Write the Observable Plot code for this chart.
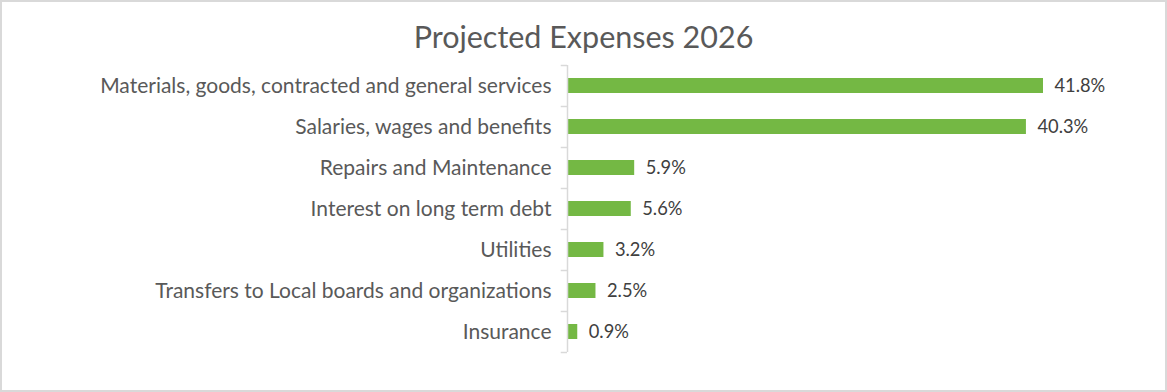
<!DOCTYPE html>
<html>
<head>
<meta charset="utf-8">
<script src="https://cdn.jsdelivr.net/npm/d3@7"></script>
<script src="https://cdn.jsdelivr.net/npm/@observablehq/plot@0.6"></script>
<style>
  body { margin: 0; background: #fff; }
  #chart { position: relative; width: 1167px; height: 392px; overflow: hidden; font-family: Lato, "Open Sans", sans-serif; }
  #title { position: absolute; left: 0; top: 21px; width: 1167px; text-align: center; font-size: 30.5px; line-height: 1; color: #595959; }
  #frame { position: absolute; left: 0; top: 0; width: 1167px; height: 392px; box-sizing: border-box; border: 2px solid #d9d9d9; pointer-events: none; }
  #plot { position: absolute; left: 0; top: 0; }
</style>
</head>
<body>
<div id="chart">
  <div id="plot"></div>
  <div id="title">Projected Expenses 2026</div>
  <div id="frame"></div>
</div>
<script>
const categories = [
  "Materials, goods, contracted and general services",
  "Salaries, wages and benefits",
  "Repairs and Maintenance",
  "Interest on long term debt",
  "Utilities",
  "Transfers to Local boards and organizations",
  "Insurance"
];
const values = [41.8, 40.3, 5.9, 5.6, 3.2, 2.5, 0.9];
const valueLabels = ["41.8%", "40.3%", "5.9%", "5.6%", "3.2%", "2.5%", "0.9%"];

const data = categories.map((c, i) => ({category: c, value: values[i], label: valueLabels[i]}));

const chart = Plot.plot({
  width: 1167,
  height: 392,
  marginLeft: 567,
  marginRight: 124,
  marginTop: 65,
  marginBottom: 40,
  style: {fontFamily: "Lato, 'Open Sans', sans-serif", background: "transparent"},
  x: {domain: [0, 41.8], axis: null},
  y: {domain: categories, paddingInner: 0.63, paddingOuter: 0.315, label: null},
  marks: [
    Plot.axisY({tickSize: 0, tickPadding: 16, fontSize: 21, color: "#595959", label: null}),
    Plot.barX(data, {x: "value", y: "category", fill: "#74b844"}),
    Plot.ruleX([0], {stroke: "#d9d9d9", strokeWidth: 1.5}),
    Plot.ruleY(categories, {y: d => d, x1: -0.55, x2: 0, dy: -20.5, stroke: "#d9d9d9", strokeWidth: 1.5}),
    Plot.ruleY([categories[categories.length - 1]], {y: d => d, x1: -0.55, x2: 0, dy: 20.5, stroke: "#d9d9d9", strokeWidth: 1.5}),
    Plot.text(data, {x: "value", y: "category", text: "label", textAnchor: "start", dx: 11, fontSize: 18.3, fill: "#404040"})
  ]
});
document.getElementById("plot").appendChild(chart);
</script>
</body>
</html>
